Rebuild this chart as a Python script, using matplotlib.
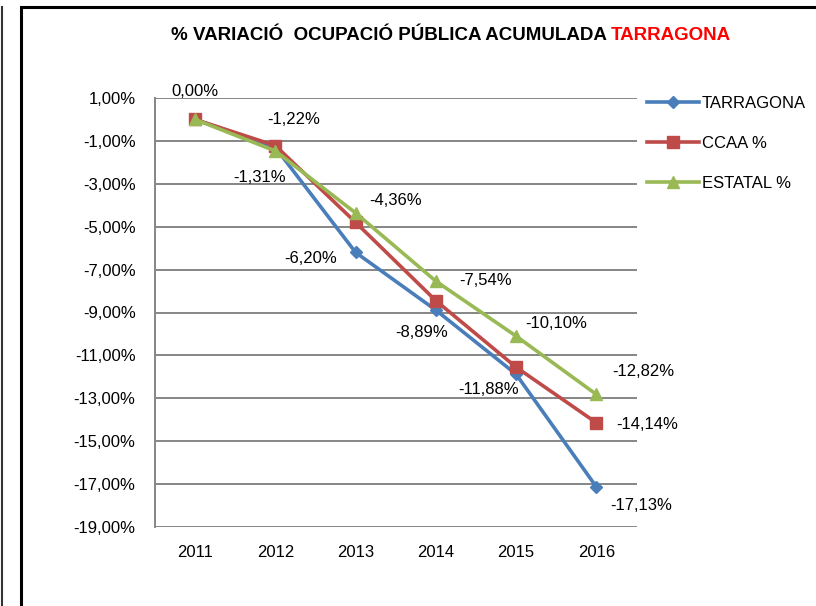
import numpy as np
import matplotlib
matplotlib.use('Agg')
import matplotlib.pyplot as plt
from matplotlib.patches import Rectangle
from matplotlib.lines import Line2D

plt.rcParams['font.family'] = ['Liberation Sans', 'DejaVu Sans']

# data
anys = ['2011', '2012', '2013', '2014', '2015', '2016']
tarragona = [0.0, -1.31, -6.20, -8.89, -11.88, -17.13]
ccaa = [0.0, -1.22, -4.80, -8.45, -11.55, -14.14]
estatal = [0.0, -1.47, -4.36, -7.54, -10.10, -12.82]
yticks = [1, -1, -3, -5, -7, -9, -11, -13, -15, -17, -19]

# etiquetes (serie, index, offset en px)
etiquetes = [
    (ccaa, 0, (0, 28)),
    (ccaa, 1, (18, 26)),
    (tarragona, 1, (-16, -30)),
    (estatal, 2, (40, 12)),
    (tarragona, 2, (-45, -6)),
    (estatal, 3, (50, 1)),
    (tarragona, 3, (-14, -22)),
    (estatal, 4, (40, 13)),
    (tarragona, 4, (-28, -15)),
    (estatal, 5, (47, 23)),
    (ccaa, 5, (51, -2)),
    (tarragona, 5, (45, -19)),
]

def pct(v):
    return ('%.2f%%' % v).replace('.', ',')

blau = '#4A7EBB'
verm = '#BE4B48'
verd = '#98B954'
gris = '#868686'

fig = plt.figure(figsize=(8.16, 6.06), dpi=100)
ax = fig.add_axes([155/816, 1-527/606, (636.5-155)/816, (527-98)/606])

x = np.arange(len(anys))
ax.plot(x, tarragona, color=blau, lw=2.6, marker='D', ms=6.5, label='TARRAGONA', zorder=3)
ax.plot(x, ccaa, color=verm, lw=2.6, marker='s', ms=8.5, label='CCAA %', zorder=4)
ax.plot(x, estatal, color=verd, lw=2.6, marker='^', ms=9, label='ESTATAL %', zorder=5)

ax.set_xlim(-0.5, len(anys)-0.5)
ax.set_ylim(-19, 1)
ax.set_xticks(x)
ax.set_xticklabels(anys)
ax.set_yticks(yticks)
ax.set_yticklabels([pct(v) for v in yticks])
ax.tick_params(length=0, labelsize=12, colors='black')
ax.tick_params(axis='y', pad=14)
ax.tick_params(axis='x', pad=13)
for v in yticks:
    ax.axhline(v, color=gris, lw=1.4, zorder=1)
for s in ['top', 'right', 'bottom']:
    ax.spines[s].set_visible(False)
ax.spines['left'].set_color(gris)
ax.spines['left'].set_linewidth(1.4)

for serie, i, (dx, dy) in etiquetes:
    ax.annotate(pct(serie[i]), (x[i], serie[i]), xytext=(dx*0.72, dy*0.72),
                textcoords='offset points', ha='center', va='center', fontsize=12)

# titol
fig.text(611/816, 1-36/606, '% VARIACIÓ  OCUPACIÓ PÚBLICA ACUMULADA ', ha='right', va='center',
         fontsize=13.5, fontweight='bold')
fig.text(611/816, 1-36/606, 'TARRAGONA', ha='left', va='center', fontsize=13.5,
         fontweight='bold', color='#FF0000')

# llegenda
handles = [Line2D([], [], color=blau, lw=2.6, marker='D', ms=6.5),
           Line2D([], [], color=verm, lw=2.6, marker='s', ms=8.5),
           Line2D([], [], color=verd, lw=2.6, marker='^', ms=9)]
fig.legend(handles, ['TARRAGONA', 'CCAA %', 'ESTATAL %'], loc='upper left',
           bbox_to_anchor=(647/816, 1-96/606), frameon=False, fontsize=12,
           handlelength=3.1, handletextpad=0.2, labelspacing=1.5, borderpad=0,
           borderaxespad=0)

# marcs
fig.add_artist(Rectangle((21/816, -0.05), 1.0, 1-6.5/606+0.05, transform=fig.transFigure,
                         fill=False, ec='black', lw=2.2))
fig.add_artist(Line2D([2/816, 2/816], [0, 1-6.5/606], transform=fig.transFigure,
                      color='#333333', lw=1.5))

fig.savefig('out.png', dpi=100)
